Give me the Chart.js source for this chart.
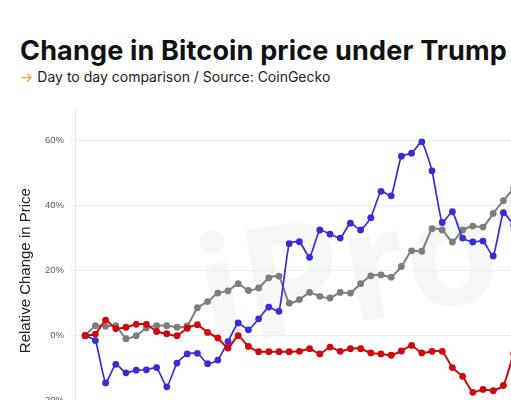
<!DOCTYPE html>
<html>
<head>
<meta charset="utf-8">
<script src="https://cdn.jsdelivr.net/npm/chart.js@4.4.1/dist/chart.umd.min.js"></script>
<style>
  html, body { margin: 0; padding: 0; background: #fff; }
  #wrap { position: relative; width: 511px; height: 400px; overflow: hidden; background: #fff; }
  .title { position: absolute; left: 20px; top: 37px; font: 700 27px Inter, sans-serif; letter-spacing: 0.17px; color: #111; line-height: 1; white-space: nowrap; }
  .sub { position: absolute; left: 20px; top: 70px; font: 400 14px Inter, sans-serif; color: #222; line-height: 1; white-space: nowrap; }
  .sub span { color: #f0a030; margin-right: 4px; }
  .mark { position: absolute; left: 185px; top: 205px; font: 700 150px Inter, sans-serif; color: #f6f6f6; transform: rotate(-10deg); transform-origin: left top; white-space: nowrap; letter-spacing: 4px; }
  canvas { position: absolute; left: 0; top: 0; }
</style>
</head>
<body>
<div id="wrap">
  <div class="mark">iProtocol</div>
  <div class="title">Change in Bitcoin price under Trump</div>
  <div class="sub"><span>→</span>Day to day comparison / Source: CoinGecko</div>
  <canvas id="chart" width="540" height="445"></canvas>
</div>
<script>
// day index since start of term
const days = [0, 1, 2, 3, 4, 5, 6, 7, 8, 9, 10, 11, 12, 13, 14, 15, 16, 17, 18, 19, 20,
  21, 22, 23, 24, 25, 26, 27, 28, 29, 30, 31, 32, 33, 34, 35, 36, 37, 38, 39, 40, 41, 42];

// relative change in %
const redSeries = [0, 0.5, 4.8, 2.2, 2.6, 3.5, 3.5, 1.3, 0.6, 0, 2.3, 3.4, 1.0, -0.7, -3.8, 0, -3.3,
  -4.9, -4.9, -4.9, -4.9, -4.8, -4.0, -5.6, -3.5, -4.8, -4.0, -4.0, -5.3, -5.6, -6.0, -4.7, -3.0,
  -5.3, -4.8, -4.8, -9.8, -12.5, -17.4, -16.5, -16.9, -15.3, -5.5];

const blueSeries = [0, -1.5, -14.5, -8.8, -11.4, -10.6, -10.5, -9.8, -15.7, -8.4, -5.6, -5.4, -8.6,
  -7.5, -1.8, 3.9, 1.8, 5.2, 8.8, 7.5, 28.3, 28.9, 24.1, 32.5, 31.2, 30.0, 34.6, 32.5, 36.3, 44.4,
  43.0, 55.2, 56.1, 59.6, 50.7, 34.8, 38.1, 30.0, 28.8, 29.1, 24.5, 37.8, 34.0];

const graySeries = [0, 3.1, 2.9, 3.1, -0.9, 0, 2.4, 3.1, 3.1, 2.6, 3.0, 8.6, 10.5, 13.1, 13.8, 16.0,
  13.9, 14.7, 17.8, 18.3, 10.0, 11.1, 13.3, 12.1, 11.6, 13.3, 13.1, 16.0, 18.4, 18.7, 18.0, 21.3,
  26.1, 26.0, 32.9, 32.5, 28.8, 32.5, 33.7, 33.4, 37.6, 41.5, 45.3];

const yTicks = [-20, 0, 20, 40, 60];

Chart.defaults.font.family = "'Liberation Sans', Arial, sans-serif";

function lineSet(label, data, color, width) {
  return {
    label: label,
    data: data,
    borderColor: color,
    backgroundColor: color,
    borderWidth: width,
    pointRadius: 3.4,
    pointBorderWidth: 0,
    tension: 0.15
  };
}

const ctx = document.getElementById('chart').getContext('2d');
new Chart(ctx, {
  type: 'line',
  data: {
    labels: days,
    datasets: [
      lineSet('Series red', redSeries, '#d0070b', 2),
      lineSet('Series blue', blueSeries, '#3b2bd4', 1.7),
      lineSet('Series gray', graySeries, '#7d7d7d', 2)
    ]
  },
  options: {
    responsive: false,
    animation: false,
    devicePixelRatio: 1,
    layout: { autoPadding: false, padding: { top: 108, bottom: 7, left: 0, right: 6 } },
    plugins: {
      legend: { display: false },
      tooltip: { enabled: false }
    },
    scales: {
      x: { type: 'linear', min: -1, max: 44, display: false },
      y: {
        min: -30,
        max: 70,
        afterBuildTicks: (axis) => { axis.ticks = yTicks.map(v => ({ value: v })); },
        afterFit: (axis) => { axis.width = 75; },
        ticks: {
          callback: (v) => v + '%',
          color: '#555',
          font: { size: 9.5 },
          padding: 6
        },
        grid: { color: '#eeeeee', tickLength: 5 },
        border: { color: '#e8e8e8' },
        title: {
          display: true,
          text: 'Relative Change in Price',
          color: '#222',
          font: { size: 15 },
          padding: { top: 17, bottom: 0 }
        }
      }
    }
  }
});
</script>
</body>
</html>
